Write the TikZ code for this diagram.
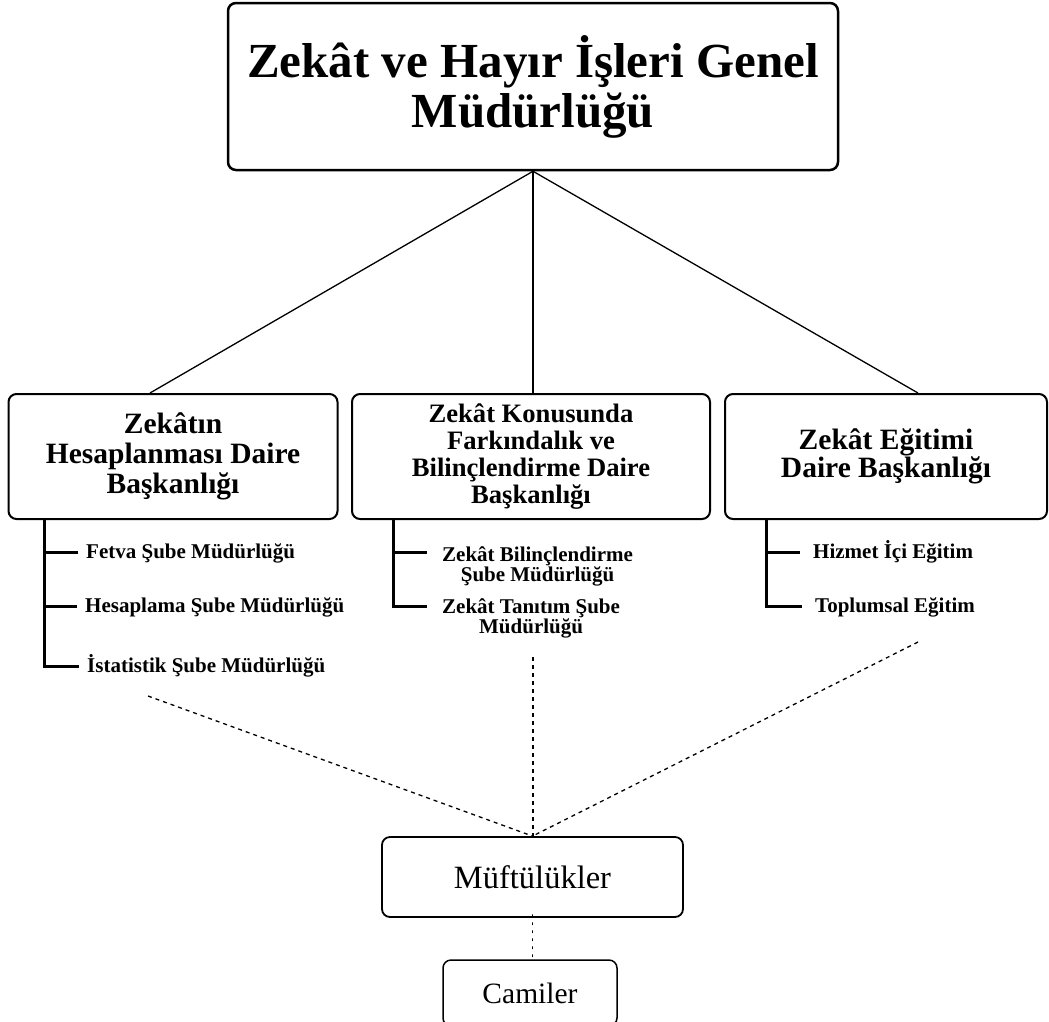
\documentclass[tikz,border=0pt]{standalone}
\usepackage{fontspec}
\setmainfont{Liberation Serif}
\usetikzlibrary{calc}
\begin{document}
\begin{tikzpicture}[x=1pt,y=-1pt,
  box/.style={draw, rounded corners=8pt, line width=2pt, inner sep=0pt, align=center},
  sub/.style={font=\bfseries\fontsize{21}{20}\selectfont, inner sep=0pt, align=center},
  oneline/.style={text height=16pt, text depth=4pt},
  link/.style={line width=1.3pt},
  bracket/.style={line width=3pt},
  dashlink/.style={line width=1.3pt, dash pattern=on 4pt off 4pt},
  dotlink/.style={line width=1.6pt, dash pattern=on 1.5pt off 6.5pt, line cap=round}]
\clip (0,0) rectangle (1049,1021);
% boxes
\node[box, line width=2.5pt, minimum width=610pt, minimum height=167pt,
      font=\bfseries\fontsize{49}{50}\selectfont] (T) at (533,86.5)
      {Zekât ve Hayır İşleri Genel\\Müdürlüğü};
\node[box, minimum width=329pt, minimum height=125pt,
      font=\bfseries\fontsize{29.5}{30}\selectfont] (L) at (173,456.5)
      {Zekâtın\\Hesaplanması Daire\\Başkanlığı};
\node[box, minimum width=358pt, minimum height=125pt,
      font=\bfseries\fontsize{26.6}{26.7}\selectfont] (C) at (531,456.5)
      {Zekât Konusunda\\Farkındalık ve\\Bilinçlendirme Daire\\Başkanlığı};
\node[box, minimum width=322pt, minimum height=125pt,
      font=\bfseries\fontsize{29.5}{28.5}\selectfont] (R) at (886,456.5)
      {Zekât Eğitimi\\Daire Başkanlığı};
\node[box, line width=1.8pt, minimum width=301pt, minimum height=80pt,
      font=\fontsize{32.5}{34}\selectfont] (M) at (532.5,877) {Müftülükler};
\node[box, line width=1.5pt, minimum width=174pt, minimum height=66pt,
      font=\fontsize{29.5}{30}\selectfont] (K) at (530,993) {Camiler};
% sub items
\node[sub, oneline, anchor=base west] (f1) at (86,558) {Fetva Şube Müdürlüğü};
\node[sub, oneline, anchor=base west] (f2) at (85,612) {Hesaplama Şube Müdürlüğü};
\node[sub, oneline, anchor=base west] (f3) at (87,672) {İstatistik Şube Müdürlüğü};
\node[sub, anchor=north west] (m1) at (442,546) {Zekât Bilinçlendirme\\Şube Müdürlüğü};
\node[sub, anchor=north west] (m2) at (442,598) {Zekât Tanıtım Şube\\Müdürlüğü};
\node[sub, oneline, anchor=base west] (r1) at (813,558) {Hizmet İçi Eğitim};
\node[sub, oneline, anchor=base west] (r2) at (815,612) {Toplumsal Eğitim};
% top connectors
\draw[link] (T.south) -- ([xshift=-23pt]L.north);
\draw[link] (T.south) -- (T.south |- C.north);
\draw[link] (T.south) -- ([xshift=32pt]R.north);
% brackets
\coordinate (lb) at ($(L.south west)+(37,0)$);
\draw[bracket] (lb) |- ([xshift=-8pt]f3.west);
\draw[bracket] (lb |- f1.west) -- ([xshift=-8pt]f1.west);
\draw[bracket] (lb |- f2.west) -- ([xshift=-8pt]f2.west);
\coordinate (cb) at ($(C.south west)+(42,0)$);
\coordinate (m1t) at (427,552);
\coordinate (m2t) at (427,606);
\draw[bracket] (cb) |- (m2t);
\draw[bracket] (cb |- m1t) -- (m1t);
\coordinate (rb) at ($(R.south west)+(42,0)$);
\draw[bracket] (rb) |- ([xshift=-13pt]r2.west);
\draw[bracket] (rb |- r1.west) -- ([xshift=-13pt]r1.west);
% dashed lines to Müftülükler
\coordinate (dl) at (148,696);
\coordinate (dm) at (533,657);
\coordinate (dr) at (918,642);
\draw[dashlink] (dl) -- (M.north);
\draw[dashlink] (dm) -- (dm |- M.north);
\draw[dashlink] (dr) -- (M.north);
% dotted
\draw[dotlink] ([yshift=3pt]M.south) -- ([yshift=-3pt]M.south |- K.north);
\end{tikzpicture}
\end{document}
